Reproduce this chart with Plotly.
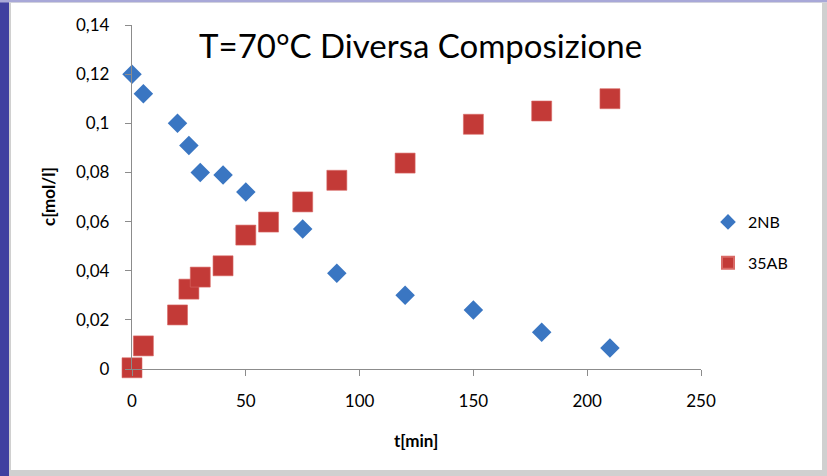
import plotly.graph_objects as go

t_2nb = [0, 5, 20, 25, 30, 40, 50, 75, 90, 120, 150, 180, 210]
c_2nb = [0.120, 0.112, 0.100, 0.091, 0.080, 0.079, 0.072, 0.057, 0.039, 0.030, 0.024, 0.015, 0.0085]

t_35ab = [0, 5, 20, 25, 30, 40, 50, 60, 75, 90, 120, 150, 180, 210]
c_35ab = [0.0005, 0.0094, 0.022, 0.0325, 0.0374, 0.042, 0.0545, 0.0598, 0.068, 0.0768, 0.0838, 0.0996, 0.105, 0.110]

title_text = "T=70°C Diversa Composizione"
x_title = "t[min]"
y_title = "c[mol/l]"

W, H = 827, 476
L, R, T, B = 132, 126, 25, 107
pw, ph = W - L - R, H - T - B

def px(x):
    return (x - L) / pw

def py(y):
    return (H - B - y) / ph

font = "Lato, Open Sans, sans-serif"

fig = go.Figure()
fig.add_trace(go.Scatter(x=t_2nb, y=c_2nb, mode="markers", name="2NB", legendgroup="a",
                         marker=dict(symbol="diamond", size=15, color="#3a76c2",
                                     line=dict(width=0)), cliponaxis=False))
fig.add_trace(go.Scatter(x=t_35ab, y=c_35ab, mode="markers", name="35AB", legendgroup="b",
                         marker=dict(symbol="square", size=20, color="#c33a37",
                                     line=dict(width=0.6, color="#d96a66")), cliponaxis=False))

shapes = [
    dict(type="rect", xref="paper", yref="paper", x0=px(0), x1=px(9), y0=py(H), y1=py(0),
         fillcolor="#4040a0", line=dict(width=0), layer="below"),
    dict(type="rect", xref="paper", yref="paper", x0=px(0), x1=px(W), y0=py(2.5), y1=py(0),
         fillcolor="#a8a8d8", line=dict(width=0), layer="below"),
    dict(type="rect", xref="paper", yref="paper", x0=px(9), x1=px(W), y0=py(H), y1=py(2.5),
         fillcolor="#d0d0d0", line=dict(width=0), layer="below"),
    dict(type="rect", xref="paper", yref="paper", x0=px(11), x1=px(822), y0=py(470), y1=py(3),
         fillcolor="#ffffff", line=dict(width=0), layer="below"),
]

fig.update_layout(
    width=W, height=H,
    margin=dict(l=L, r=R, t=T, b=B, pad=0),
    paper_bgcolor="#ffffff", plot_bgcolor="rgba(0,0,0,0)",
    separators=", ",
    showlegend=True,
    legend=dict(x=px(708), y=py(205), xanchor="left", yanchor="top",
                font=dict(family=font, size=16, color="#000000"),
                itemsizing="constant", traceorder="grouped", tracegroupgap=17,
                itemwidth=30, bgcolor="rgba(0,0,0,0)"),
    shapes=shapes,
    annotations=[
        dict(text=title_text, xref="paper", yref="paper", x=px(420), y=py(45),
             xanchor="center", yanchor="middle", showarrow=False,
             font=dict(family=font, size=33, color="#000000")),
        dict(text="<b>" + x_title + "</b>", xref="paper", yref="paper", x=px(416), y=py(440),
             xanchor="center", yanchor="middle", showarrow=False,
             font=dict(family=font, size=17, color="#000000")),
        dict(text="<b>" + y_title + "</b>", xref="paper", yref="paper", x=px(48), y=py(197),
             xanchor="center", yanchor="middle", showarrow=False, textangle=-90,
             font=dict(family=font, size=17, color="#000000")),
    ],
    xaxis=dict(range=[0, 250], dtick=50, tick0=0, showgrid=False, zeroline=False,
               showline=True, linecolor="#8c8c8c", linewidth=1.3,
               ticks="outside", ticklen=6, tickcolor="#8c8c8c", tickwidth=1.3,
               tickfont=dict(family=font, size=17, color="#000000"), ticklabelstandoff=10),
    yaxis=dict(range=[0, 0.14], dtick=0.02, tick0=0, showgrid=False, zeroline=False,
               showline=True, linecolor="#8c8c8c", linewidth=1.3,
               ticks="outside", ticklen=6, tickcolor="#8c8c8c", tickwidth=1.3,
               tickfont=dict(family=font, size=17, color="#000000"), ticklabelstandoff=12),
)

fig.write_html("out.html")
